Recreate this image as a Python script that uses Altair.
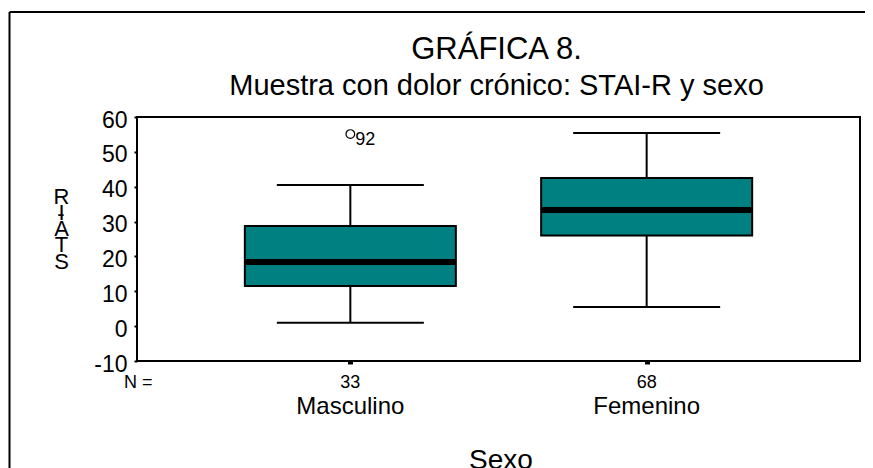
import altair as alt
import pandas as pd

# ---- data ----
categories = ["Masculino", "Femenino"]
n_counts = ["33", "68"]
whisker_low = [1, 5.5]
quart1 = [11.5, 26]
medians = [18.4, 33.3]
quart3 = [28.7, 42.5]
whisker_high = [40.5, 55.4]
outlier_cat = ["Masculino"]
outlier_val = [55.1]
outlier_id = ["92"]
y_ticks = [-10, 0, 10, 20, 30, 40, 50, 60]

title_text = "GRÁFICA 8."
subtitle_text = "Muestra con dolor crónico: STAI-R y sexo"

W, H = 723, 244
FONT = "Liberation Sans"
TEAL = "#008080"

box_df = pd.DataFrame({
    "sexo": categories, "n": n_counts, "lo": whisker_low, "q1": quart1,
    "med": medians, "q3": quart3, "hi": whisker_high,
})
out_df = pd.DataFrame({"sexo": outlier_cat, "v": outlier_val, "id": outlier_id})

xscale = alt.Scale(type="point", domain=categories, padding=0.72)
yscale = alt.Scale(domain=[-10, 60], nice=False, zero=False)

x_axis = alt.Axis(title="Sexo", labels=False, ticks=True, tickSize=3,
                  tickWidth=5, tickColor="black", domain=False, grid=False,
                  titleFontSize=28, titleFont=FONT, titleFontWeight="normal",
                  titleColor="black", titleBaseline="alphabetic",
                  titleY=107, titleX=W / 2 + 2)
y_axis = alt.Axis(values=y_ticks, labelExpr="'' + datum.value",
                  labelOverlap=False, labelBound=False, labelFlush=False,
                  title=["R", "I", "A", "T", "S"], titleAngle=0,
                  titleX=-76, titleY=79, titleAlign="center", titleBaseline="middle",
                  titleLineHeight=16.3, titleFontSize=22, titleFont=FONT,
                  titleFontWeight="normal", titleColor="black",
                  labelFontSize=23, labelFont=FONT, labelColor="black",
                  labelPadding=7, labelOffset=3, tickSize=3, tickWidth=2,
                  tickColor="black", domain=False, grid=False)


def X():
    return alt.X("sexo:N", scale=xscale, sort=categories, axis=x_axis)


def Y(field):
    return alt.Y(field, scale=yscale, axis=y_axis)


base = alt.Chart(box_df)

whiskers = base.mark_rule(color="black", strokeWidth=2).encode(
    x=X(), y=Y("lo:Q"), y2="hi:Q")
cap_lo = base.mark_tick(color="black", thickness=2, size=147, opacity=1).encode(
    x=X(), y=Y("lo:Q"))
cap_hi = base.mark_tick(color="black", thickness=2, size=147, opacity=1).encode(
    x=X(), y=Y("hi:Q"))
box = base.mark_bar(size=211, fill=TEAL, stroke="black", strokeWidth=2).encode(
    x=X(), y=Y("q1:Q"), y2="q3:Q")
med = base.mark_tick(color="black", thickness=6, size=211, opacity=1).encode(
    x=X(), y=Y("med:Q"))

n_text = base.mark_text(font=FONT, fontSize=18, baseline="alphabetic", color="black").encode(
    x=X(), y=alt.value(H + 27), text="n:N")
cat_text = base.mark_text(font=FONT, fontSize=24, baseline="alphabetic", color="black").encode(
    x=X(), y=alt.value(H + 53), text="sexo:N")

out_pt = alt.Chart(out_df).mark_point(shape="circle", size=75, filled=False,
                                      color="black", strokeWidth=1.2, opacity=1).encode(
    x=X(), y=Y("v:Q"))
out_lbl = alt.Chart(out_df).mark_text(font=FONT, fontSize=18, align="left",
                                      baseline="alphabetic", dx=5, dy=11, color="black").encode(
    x=X(), y=Y("v:Q"), text="id:N")

# annotations (titles, N =, y-title dash, outer frame)
title_mark = alt.Chart(pd.DataFrame({"t": [title_text]})).mark_text(
    font=FONT, fontSize=31, baseline="alphabetic", color="black").encode(
    x=alt.value(W / 2 - 2), y=alt.value(-58), text="t:N")
sub_mark = alt.Chart(pd.DataFrame({"t": [subtitle_text]})).mark_text(
    font=FONT, fontSize=29, baseline="alphabetic", color="black").encode(
    x=alt.value(W / 2 - 2), y=alt.value(-22), text="t:N")
n_label = alt.Chart(pd.DataFrame({"t": ["N ="]})).mark_text(
    font=FONT, fontSize=18, align="left", baseline="alphabetic", color="black").encode(
    x=alt.value(-13), y=alt.value(H + 27), text="t:N")
dash = alt.Chart(pd.DataFrame({"t": ["-"]})).mark_text(
    font=FONT, fontSize=22, align="center", baseline="middle", color="black").encode(
    x=alt.value(-76), y=alt.value(97), text="t:N")
frame_top = alt.Chart(pd.DataFrame({"a": [0]})).mark_rule(color="black", strokeWidth=2).encode(
    x=alt.value(-127.5), x2=alt.value(W + 300), y=alt.value(-105))
frame_left = alt.Chart(pd.DataFrame({"a": [0]})).mark_rule(color="black", strokeWidth=2).encode(
    x=alt.value(-127.5), y=alt.value(-105), y2=alt.value(H + 300))

chart = alt.layer(
    whiskers, cap_lo, cap_hi, box, med, out_pt, out_lbl,
    n_text, cat_text, title_mark, sub_mark, n_label, dash, frame_top, frame_left,
).properties(
    width=W, height=H,
    autosize=alt.AutoSizeParams(type="none"),
    padding={"left": 129, "top": 109, "right": 5, "bottom": 107},
).configure(background="white").configure_view(stroke="black", strokeWidth=2)

chart.save("out.html", embed_options={"renderer": "svg", "actions": False})
